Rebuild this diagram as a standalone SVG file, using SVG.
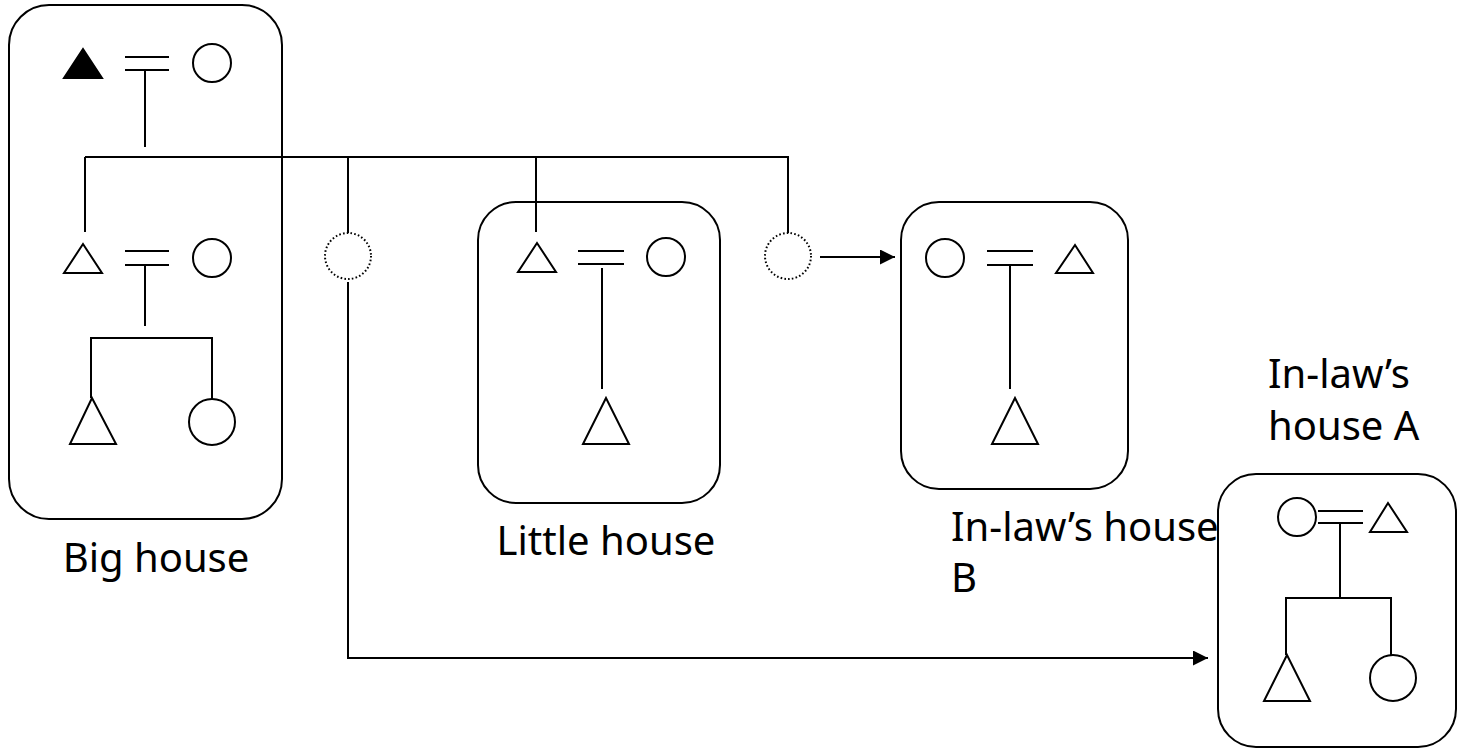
<svg xmlns="http://www.w3.org/2000/svg" width="1458" height="748" viewBox="0 0 1458 748">
  <style>
    .box { fill: none; stroke: #000; stroke-width: 2; }
    .ln { fill: none; stroke: #000; stroke-width: 2; }
    .sym { fill: #fff; stroke: #000; stroke-width: 2; }
    .solid { fill: #000; stroke: #000; stroke-width: 2; }
    .dot { fill: none; stroke: #000; stroke-width: 2; stroke-dasharray: 1.6 2.2; }
    .lbl { font-family: "Noto Sans", "Open Sans", "Liberation Sans", sans-serif; font-size: 40px; fill: #000; }
  </style>
  <defs>
    <marker id="arrow" markerUnits="userSpaceOnUse" markerWidth="16" markerHeight="16" refX="15" refY="7.5" orient="auto">
      <path d="M0,0 L15,7.5 L0,15 z" fill="#000"/>
    </marker>
  </defs>

  <rect width="1458" height="748" fill="#fff"/>

  <!-- Big house: three generations -->
  <g id="big-house">
    <rect class="box" x="9" y="5" width="273" height="514" rx="40"/>
    <polygon class="solid" points="83,49 64,78 102,78"/>
    <line class="ln" x1="125" y1="57" x2="169" y2="57"/>
    <line class="ln" x1="125" y1="70" x2="169" y2="70"/>
    <circle class="sym" cx="212" cy="63" r="19"/>
    <line class="ln" x1="145" y1="70" x2="145" y2="147"/>
    <polygon class="sym" points="83,244 64,273 102,273"/>
    <line class="ln" x1="125" y1="251" x2="169" y2="251"/>
    <line class="ln" x1="125" y1="265" x2="169" y2="265"/>
    <circle class="sym" cx="212" cy="258" r="19"/>
    <line class="ln" x1="145" y1="265" x2="145" y2="326"/>
    <polyline class="ln" points="91,398 91,338 212,338 212,399"/>
    <polygon class="sym" points="92,398 70,444 116,444"/>
    <circle class="sym" cx="212" cy="422" r="23"/>
    <text class="lbl" x="156" y="572" text-anchor="middle">Big house</text>
  </g>

  <!-- Little house -->
  <g id="little-house">
    <rect class="box" x="478" y="202" width="242" height="301" rx="38"/>
    <polygon class="sym" points="537,243 518,272 556,272"/>
    <line class="ln" x1="578" y1="251" x2="624" y2="251"/>
    <line class="ln" x1="578" y1="264" x2="624" y2="264"/>
    <circle class="sym" cx="666" cy="257" r="19"/>
    <line class="ln" x1="602" y1="268" x2="602" y2="389"/>
    <polygon class="sym" points="606,398 583,444 629,444"/>
    <text class="lbl" x="606" y="555" text-anchor="middle">Little house</text>
  </g>

  <!-- In-law's house B -->
  <g id="inlaw-house-b">
    <rect class="box" x="901" y="202" width="227" height="287" rx="38"/>
    <circle class="sym" cx="945" cy="258" r="19"/>
    <line class="ln" x1="987" y1="251" x2="1033" y2="251"/>
    <line class="ln" x1="987" y1="265" x2="1033" y2="265"/>
    <polygon class="sym" points="1075,245 1056,273 1093,273"/>
    <line class="ln" x1="1010" y1="265" x2="1010" y2="389"/>
    <polygon class="sym" points="1015,398 992,444 1038,444"/>
    <text class="lbl" x="951" y="541">In-law’s house</text>
    <text class="lbl" x="951" y="592">B</text>
  </g>

  <!-- In-law's house A -->
  <g id="inlaw-house-a">
    <rect class="box" x="1218" y="474" width="238" height="273" rx="38"/>
    <circle class="sym" cx="1297" cy="517" r="19"/>
    <line class="ln" x1="1318" y1="511" x2="1363" y2="511"/>
    <line class="ln" x1="1318" y1="523" x2="1363" y2="523"/>
    <polygon class="sym" points="1388,503 1370,532 1407,532"/>
    <line class="ln" x1="1340" y1="523" x2="1340" y2="598"/>
    <polyline class="ln" points="1286,655 1286,598 1391,598 1391,655"/>
    <polygon class="sym" points="1287,655 1264,701 1310,701"/>
    <circle class="sym" cx="1393" cy="678" r="23"/>
    <text class="lbl" x="1268" y="388">In-law’s</text>
    <text class="lbl" x="1268" y="440">house A</text>
  </g>

  <!-- Daughters who marry out -->
  <g id="daughter-1">
    <circle class="dot" cx="348" cy="256" r="23"/>
  </g>
  <g id="daughter-2">
    <circle class="dot" cx="788" cy="256" r="23"/>
  </g>

  <!-- Sibling line and movement arrows -->
  <g id="connectors">
    <line class="ln" x1="85" y1="157" x2="789" y2="157"/>
    <line class="ln" x1="85" y1="157" x2="85" y2="232"/>
    <line class="ln" x1="348" y1="157" x2="348" y2="233"/>
    <line class="ln" x1="536" y1="157" x2="536" y2="232"/>
    <line class="ln" x1="788" y1="157" x2="788" y2="233"/>
    <line class="ln" x1="820" y1="257" x2="895" y2="257" marker-end="url(#arrow)"/>
    <polyline class="ln" points="348,282 348,658 1208,658" marker-end="url(#arrow)"/>
  </g>
</svg>
